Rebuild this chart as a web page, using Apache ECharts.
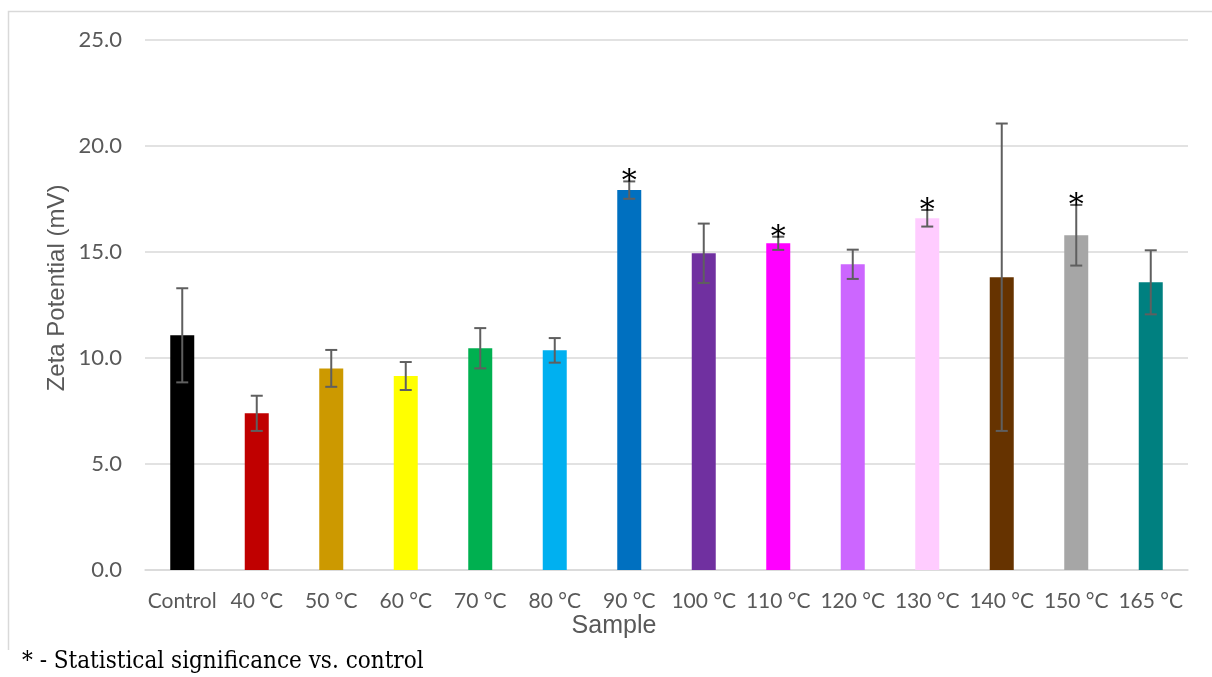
<!DOCTYPE html>
<html>
<head>
<meta charset="utf-8">
<script src="https://cdn.jsdelivr.net/npm/echarts@6/dist/echarts.min.js"></script>
<style>
  html, body { margin: 0; padding: 0; background: #ffffff; }
  #chart { width: 1212px; height: 677px; }
</style>
</head>
<body>
<div id="chart"></div>
<script>
// Zeta potential per treatment temperature, mean ± error
const categories = ['Control', '40 °C', '50 °C', '60 °C', '70 °C', '80 °C', '90 °C',
  '100 °C', '110 °C', '120 °C', '130 °C', '140 °C', '150 °C', '165 °C'];
const means = [11.07, 7.39, 9.51, 9.15, 10.46, 10.36, 17.92, 14.94, 15.41, 14.42, 16.59, 13.81, 15.79, 13.57];
const errors = [2.22, 0.83, 0.87, 0.66, 0.95, 0.58, 0.41, 1.40, 0.31, 0.69, 0.39, 7.25, 1.43, 1.51];
const significant = [false, false, false, false, false, false, true, false, true, false, true, false, true, false];
const barColors = ['#000000', '#C00000', '#CC9900', '#FFFF00', '#00B050', '#00B0F0', '#0070C0',
  '#7030A0', '#FF00FF', '#CC66FF', '#FFCCFF', '#663300', '#A6A6A6', '#008080'];
const yTicks = { min: 0, max: 25, interval: 5 };

const chart = echarts.init(document.getElementById('chart'), null, { renderer: 'canvas' });

const barData = means.map((v, i) => ({ value: v, itemStyle: { color: barColors[i] } }));
const errData = means.map((v, i) => [i, v, errors[i], significant[i] ? 1 : 0]);

const gray = '#595959';
const gridColor = '#D9D9D9';

chart.setOption({
  animation: false,
  backgroundColor: '#ffffff',
  grid: { left: 145, right: 24, top: 40, bottom: 107, containLabel: false },
  xAxis: {
    type: 'category',
    data: categories,
    axisLine: { show: true, lineStyle: { color: gridColor, width: 1.5 } },
    axisTick: { show: false },
    axisLabel: { color: gray, fontFamily: 'Lato', fontSize: 21, margin: 21, interval: 0 }
  },
  yAxis: {
    type: 'value',
    min: yTicks.min, max: yTicks.max, interval: yTicks.interval,
    axisLine: { show: false },
    axisTick: { show: false },
    splitLine: { lineStyle: { color: gridColor, width: 1.5 } },
    axisLabel: { color: gray, fontFamily: 'Lato', fontSize: 22, margin: 23,
      formatter: v => v.toFixed(1) }
  },
  graphic: [
    { type: 'polyline', shape: { points: [[8.5, 650], [8.5, 11.5], [1212, 11.5]] },
      style: { stroke: gridColor, lineWidth: 1.5, fill: null }, silent: true },
    { type: 'text', x: 57, y: 288, rotation: Math.PI / 2,
      style: { text: 'Zeta Potential (mV)', fill: gray, font: '24px "Liberation Sans"',
        textAlign: 'center', textVerticalAlign: 'middle' } },
    { type: 'text', x: 614, y: 626,
      style: { text: 'Sample', fill: gray, font: '25px "Liberation Sans"',
        textAlign: 'center', textVerticalAlign: 'middle' } },
    { type: 'text', x: 22, y: 662,
      style: { text: '* - Statistical significance vs. control', fill: '#000000',
        font: '24px "DejaVu Serif Condensed", "DejaVu Serif"', textAlign: 'left', textVerticalAlign: 'middle' } }
  ],
  series: [
    {
      type: 'bar',
      data: barData,
      barWidth: 24,
      z: 2
    },
    {
      type: 'custom',
      data: errData,
      z: 3,
      renderItem: function (params, api) {
        const x = api.value(0);
        const m = api.value(1);
        const e = api.value(2);
        const top = api.coord([x, m + e]);
        const bot = api.coord([x, m - e]);
        const cap = 6;
        const style = { stroke: '#5F5F5F', lineWidth: 2 };
        const children = [
          { type: 'line', shape: { x1: top[0], y1: top[1], x2: bot[0], y2: bot[1] }, style },
          { type: 'line', shape: { x1: top[0] - cap, y1: top[1], x2: top[0] + cap, y2: top[1] }, style },
          { type: 'line', shape: { x1: bot[0] - cap, y1: bot[1], x2: bot[0] + cap, y2: bot[1] }, style }
        ];
        if (api.value(3) === 1) {
          children.push({
            type: 'text', x: top[0], y: top[1] + 1,
            style: { text: '*', fill: '#000000', font: '30px "DejaVu Serif"',
              textAlign: 'center', textVerticalAlign: 'middle' }
          });
        }
        return { type: 'group', children };
      }
    }
  ]
});
</script>
</body>
</html>
